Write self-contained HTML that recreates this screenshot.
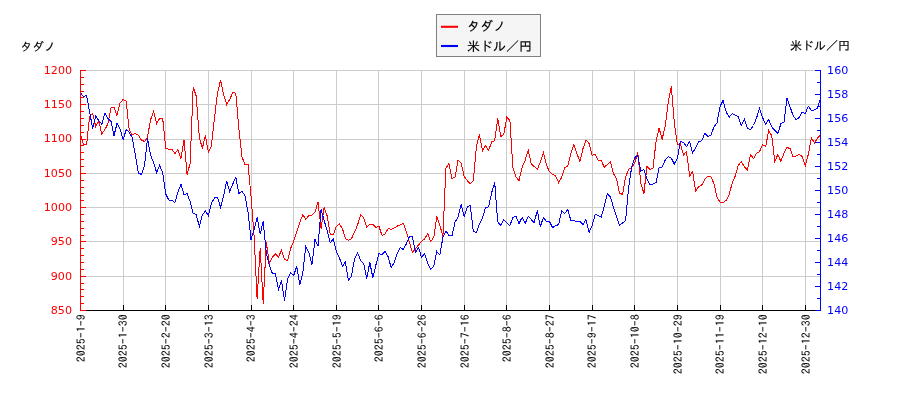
<!DOCTYPE html>
<html lang="ja"><head><meta charset="utf-8"><title>タダノ 米ドル／円</title>
<style>html,body{margin:0;padding:0;background:#fff}svg{display:block}.dj{font-family:"DejaVu Sans","Liberation Sans",sans-serif;font-size:11.1px}.jp{font-family:"Liberation Sans","IPAGothic","Noto Sans CJK JP",sans-serif}.tk{font-family:"IPAGothic","Liberation Mono",monospace}</style></head><body>
<svg width="900" height="400" viewBox="0 0 900 400">
<rect width="900" height="400" fill="#fff"/>
<path d="M80.50 70.5V310.5M123.50 70.5V310.5M165.50 70.5V310.5M208.50 70.5V310.5M251.50 70.5V310.5M293.50 70.5V310.5M336.50 70.5V310.5M378.50 70.5V310.5M421.50 70.5V310.5M464.50 70.5V310.5M506.50 70.5V310.5M549.50 70.5V310.5M592.50 70.5V310.5M634.50 70.5V310.5M677.50 70.5V310.5M720.50 70.5V310.5M762.50 70.5V310.5M805.50 70.5V310.5M80.5 310.50H820.5M80.5 276.50H820.5M80.5 241.50H820.5M80.5 207.50H820.5M80.5 173.50H820.5M80.5 139.50H820.5M80.5 104.50H820.5M80.5 70.50H820.5" stroke="#cccccc" stroke-width="1" fill="none" shape-rendering="crispEdges"/>
<clipPath id="c"><rect x="80.5" y="70.5" width="740.0" height="240.0"/></clipPath>
<g clip-path="url(#c)"><polyline points="80.5,134.0 83.5,145.0 86.6,144.5 89.6,116.5 92.7,113.5 95.7,126.5 98.8,121.0 101.8,134.0 104.9,129.5 107.9,124.0 111.0,108.0 114.0,107.5 117.0,115.5 120.1,103.0 123.1,99.5 126.2,101.0 129.2,130.0 132.3,135.0 135.3,133.5 138.4,135.3 141.4,140.0 144.5,141.5 147.5,137.3 150.5,120.0 153.6,111.5 156.6,123.5 159.7,118.5 162.7,118.5 165.8,148.3 168.8,149.3 171.9,149.5 174.9,153.5 177.9,149.5 181.0,158.5 184.0,140.0 187.1,174.5 190.1,163.5 193.2,87.0 196.2,96.0 199.3,137.0 202.3,148.5 205.4,135.5 208.4,152.5 211.4,146.0 214.5,118.0 217.5,93.0 220.6,80.0 223.6,94.5 226.7,104.5 229.7,99.5 232.8,92.2 235.8,93.5 238.9,129.0 241.9,156.5 244.9,164.5 248.0,164.0 251.0,196.0 254.1,236.0 257.1,298.5 260.2,248.0 263.2,303.5 266.3,242.0 269.3,263.5 272.4,257.0 275.4,254.0 278.4,257.0 281.5,250.5 284.5,259.0 287.6,260.8 290.6,248.5 293.7,241.0 296.7,231.5 299.8,222.5 302.8,214.5 305.8,219.5 308.9,215.5 311.9,215.2 315.0,212.0 318.0,202.2 321.1,228.5 324.1,207.2 327.2,216.0 330.2,234.5 333.3,234.5 336.3,226.5 339.3,224.0 342.4,228.5 345.4,238.5 348.5,240.5 351.5,238.5 354.6,232.0 357.6,225.0 360.7,214.5 363.7,218.0 366.8,227.5 369.8,224.2 372.8,224.5 375.9,227.5 378.9,226.2 382.0,235.4 385.0,234.0 388.1,228.5 391.1,229.5 394.2,228.0 397.2,226.2 400.3,224.7 403.3,223.5 406.3,231.5 409.4,242.0 412.4,252.5 415.5,249.0 418.5,245.0 421.6,241.2 424.6,239.0 427.7,233.5 430.7,241.5 433.8,237.2 436.8,216.5 439.8,225.0 442.9,236.5 445.9,168.0 449.0,163.5 452.0,178.5 455.1,177.0 458.1,160.0 461.2,163.5 464.2,176.5 467.2,180.5 470.3,183.8 473.3,180.5 476.4,147.0 479.4,134.5 482.5,151.0 485.5,145.5 488.6,150.5 491.6,142.0 494.7,140.5 497.7,118.5 500.7,136.5 503.8,134.5 506.8,117.2 509.9,120.5 512.9,168.0 516.0,177.0 519.0,180.7 522.1,167.5 525.1,160.5 528.2,150.0 531.2,163.5 534.2,166.5 537.3,169.5 540.3,162.0 543.4,152.5 546.4,165.0 549.5,171.7 552.5,174.3 555.6,176.0 558.6,182.5 561.7,177.5 564.7,167.3 567.7,166.7 570.8,153.5 573.8,144.5 576.9,153.5 579.9,161.5 583.0,148.5 586.0,140.0 589.1,143.5 592.1,155.5 595.2,154.2 598.2,160.2 601.2,160.5 604.3,167.3 607.3,164.5 610.4,161.5 613.4,173.5 616.5,178.5 619.5,193.0 622.6,194.5 625.6,177.0 628.6,169.5 631.7,167.5 634.7,163.0 637.8,152.5 640.8,183.0 643.9,193.5 646.9,166.5 650.0,169.5 653.0,168.2 656.1,141.0 659.1,128.0 662.1,139.5 665.2,126.0 668.2,102.0 671.3,86.2 674.3,122.5 677.4,145.0 680.4,144.0 683.5,155.0 686.5,151.5 689.6,176.0 692.6,171.5 695.6,191.0 698.7,186.5 701.7,185.0 704.8,179.5 707.8,176.2 710.9,176.8 713.9,183.5 717.0,197.0 720.0,202.2 723.1,202.5 726.1,200.5 729.1,195.0 732.2,183.0 735.2,176.0 738.3,165.3 741.3,161.5 744.4,167.0 747.4,170.0 750.5,154.5 753.5,158.5 756.5,153.5 759.6,151.5 762.6,144.5 765.7,146.7 768.7,130.3 771.8,136.0 774.8,161.5 777.9,154.5 780.9,161.5 784.0,153.0 787.0,147.5 790.0,148.5 793.1,157.0 796.1,156.0 799.2,154.2 802.2,156.5 805.3,165.5 808.3,154.5 811.4,137.5 814.4,143.0 817.5,138.0 820.5,135.0" fill="none" stroke="#ff0000" stroke-width="1" shape-rendering="crispEdges"/><polyline points="80.5,93.0 83.5,96.5 86.6,95.5 89.6,112.0 92.7,128.5 95.7,116.0 98.8,120.5 101.8,124.3 104.9,113.0 107.9,118.5 111.0,121.5 114.0,135.5 117.0,123.5 120.1,129.0 123.1,139.5 126.2,129.7 129.2,132.3 132.3,137.7 135.3,155.0 138.4,173.0 141.4,174.5 144.5,166.0 147.5,138.5 150.5,155.0 153.6,162.5 156.6,172.5 159.7,165.3 162.7,173.0 165.8,194.0 168.8,200.0 171.9,200.5 174.9,202.5 177.9,192.0 181.0,184.3 184.0,194.5 187.1,193.8 190.1,201.5 193.2,213.5 196.2,214.5 199.3,226.5 202.3,215.0 205.4,211.0 208.4,215.5 211.4,203.0 214.5,198.0 217.5,197.2 220.6,207.5 223.6,196.0 226.7,181.0 229.7,191.5 232.8,184.0 235.8,177.2 238.9,193.5 241.9,191.5 244.9,195.0 248.0,212.0 251.0,239.5 254.1,230.0 257.1,217.5 260.2,234.0 263.2,221.5 266.3,253.0 269.3,265.5 272.4,273.5 275.4,273.5 278.4,289.5 281.5,280.5 284.5,300.5 287.6,279.0 290.6,272.5 293.7,275.5 296.7,266.5 299.8,285.0 302.8,273.0 305.8,246.5 308.9,252.5 311.9,265.0 315.0,239.5 318.0,246.0 321.1,209.5 324.1,220.5 327.2,230.5 330.2,243.0 333.3,238.7 336.3,251.5 339.3,257.5 342.4,266.3 345.4,262.0 348.5,280.5 351.5,276.0 354.6,258.5 357.6,252.8 360.7,260.5 363.7,263.5 366.8,278.5 369.8,262.3 372.8,277.5 375.9,265.0 378.9,253.7 382.0,254.7 385.0,251.2 388.1,256.5 391.1,267.5 394.2,262.5 397.2,253.5 400.3,247.5 403.3,249.5 406.3,244.0 409.4,236.5 412.4,236.5 415.5,252.3 418.5,247.5 421.6,257.5 424.6,253.5 427.7,263.0 430.7,269.5 433.8,266.5 436.8,251.5 439.8,255.0 442.9,237.5 445.9,231.0 449.0,235.5 452.0,235.5 455.1,222.0 458.1,217.0 461.2,204.2 464.2,216.5 467.2,207.0 470.3,205.3 473.3,231.5 476.4,232.5 479.4,224.0 482.5,217.7 485.5,207.6 488.6,206.8 491.6,193.0 494.7,182.3 497.7,221.8 500.7,225.5 503.8,219.5 506.8,223.0 509.9,225.5 512.9,217.5 516.0,216.5 519.0,223.5 522.1,217.5 525.1,223.5 528.2,216.5 531.2,219.5 534.2,222.5 537.3,210.5 540.3,226.5 543.4,217.5 546.4,221.2 549.5,221.5 552.5,227.5 555.6,225.8 558.6,224.5 561.7,210.5 564.7,213.5 567.7,209.5 570.8,220.2 573.8,220.5 576.9,221.5 579.9,221.5 583.0,224.5 586.0,219.5 589.1,232.5 592.1,225.5 595.2,214.3 598.2,215.5 601.2,217.0 604.3,206.0 607.3,193.5 610.4,197.0 613.4,207.0 616.5,216.5 619.5,225.0 622.6,223.0 625.6,220.5 628.6,187.5 631.7,167.0 634.7,157.5 637.8,155.5 640.8,171.0 643.9,169.5 646.9,178.5 650.0,185.0 653.0,184.0 656.1,182.5 659.1,168.0 662.1,167.0 665.2,160.0 668.2,156.5 671.3,158.0 674.3,164.0 677.4,158.0 680.4,141.2 683.5,142.5 686.5,146.5 689.6,141.5 692.6,153.0 695.6,148.0 698.7,141.5 701.7,140.8 704.8,133.5 707.8,136.3 710.9,135.5 713.9,127.0 717.0,122.8 720.0,106.7 723.1,100.3 726.1,111.7 729.1,117.3 732.2,113.5 735.2,115.0 738.3,116.5 741.3,125.5 744.4,119.5 747.4,128.0 750.5,129.8 753.5,125.5 756.5,118.0 759.6,108.5 762.6,117.5 765.7,124.5 768.7,119.5 771.8,127.0 774.8,130.5 777.9,133.5 780.9,123.5 784.0,122.3 787.0,98.2 790.0,106.7 793.1,115.5 796.1,119.5 799.2,117.5 802.2,112.0 805.3,113.7 808.3,106.2 811.4,110.5 814.4,110.0 817.5,108.0 820.5,98.0" fill="none" stroke="#0000ff" stroke-width="1" shape-rendering="crispEdges"/></g>
<path d="M80.50 310.5v-5.5M123.50 310.5v-5.5M165.50 310.5v-5.5M208.50 310.5v-5.5M251.50 310.5v-5.5M293.50 310.5v-5.5M336.50 310.5v-5.5M378.50 310.5v-5.5M421.50 310.5v-5.5M464.50 310.5v-5.5M506.50 310.5v-5.5M549.50 310.5v-5.5M592.50 310.5v-5.5M634.50 310.5v-5.5M677.50 310.5v-5.5M720.50 310.5v-5.5M762.50 310.5v-5.5M805.50 310.5v-5.5M80.0 310.5H821.0" stroke="#000" stroke-width="1" fill="none" shape-rendering="crispEdges"/>
<path d="M80.5 310.50h5.5M80.5 303.50h3.5M80.5 296.50h3.5M80.5 289.50h3.5M80.5 283.50h3.5M80.5 276.50h5.5M80.5 269.50h3.5M80.5 262.50h3.5M80.5 255.50h3.5M80.5 248.50h3.5M80.5 241.50h5.5M80.5 235.50h3.5M80.5 228.50h3.5M80.5 221.50h3.5M80.5 214.50h3.5M80.5 207.50h5.5M80.5 200.50h3.5M80.5 193.50h3.5M80.5 187.50h3.5M80.5 180.50h3.5M80.5 173.50h5.5M80.5 166.50h3.5M80.5 159.50h3.5M80.5 152.50h3.5M80.5 145.50h3.5M80.5 139.50h5.5M80.5 132.50h3.5M80.5 125.50h3.5M80.5 118.50h3.5M80.5 111.50h3.5M80.5 104.50h5.5M80.5 97.50h3.5M80.5 91.50h3.5M80.5 84.50h3.5M80.5 77.50h3.5M80.5 70.50h5.5M80.5 70.0V311.0" stroke="#ff0000" stroke-width="1" fill="none" shape-rendering="crispEdges"/>
<path d="M820.5 310.50h-5.5M820.5 298.50h-3.5M820.5 286.50h-5.5M820.5 274.50h-3.5M820.5 262.50h-5.5M820.5 250.50h-3.5M820.5 238.50h-5.5M820.5 226.50h-3.5M820.5 214.50h-5.5M820.5 202.50h-3.5M820.5 190.50h-5.5M820.5 178.50h-3.5M820.5 166.50h-5.5M820.5 154.50h-3.5M820.5 142.50h-5.5M820.5 130.50h-3.5M820.5 118.50h-5.5M820.5 106.50h-3.5M820.5 94.50h-5.5M820.5 82.50h-3.5M820.5 70.50h-5.5M820.5 70.0V311.0" stroke="#0000ff" stroke-width="1" fill="none" shape-rendering="crispEdges"/>
<text class="dj" x="72.0" y="313.80" text-anchor="end" fill="#ff0000">850</text>
<text class="dj" x="72.0" y="279.51" text-anchor="end" fill="#ff0000">900</text>
<text class="dj" x="72.0" y="245.23" text-anchor="end" fill="#ff0000">950</text>
<text class="dj" x="72.0" y="210.94" text-anchor="end" fill="#ff0000">1000</text>
<text class="dj" x="72.0" y="176.66" text-anchor="end" fill="#ff0000">1050</text>
<text class="dj" x="72.0" y="142.37" text-anchor="end" fill="#ff0000">1100</text>
<text class="dj" x="72.0" y="108.09" text-anchor="end" fill="#ff0000">1150</text>
<text class="dj" x="72.0" y="73.80" text-anchor="end" fill="#ff0000">1200</text>
<text class="dj" x="827.1" y="313.80" fill="#0000ff">140</text>
<text class="dj" x="827.1" y="289.80" fill="#0000ff">142</text>
<text class="dj" x="827.1" y="265.80" fill="#0000ff">144</text>
<text class="dj" x="827.1" y="241.80" fill="#0000ff">146</text>
<text class="dj" x="827.1" y="217.80" fill="#0000ff">148</text>
<text class="dj" x="827.1" y="193.80" fill="#0000ff">150</text>
<text class="dj" x="827.1" y="169.80" fill="#0000ff">152</text>
<text class="dj" x="827.1" y="145.80" fill="#0000ff">154</text>
<text class="dj" x="827.1" y="121.80" fill="#0000ff">156</text>
<text class="dj" x="827.1" y="97.80" fill="#0000ff">158</text>
<text class="dj" x="827.1" y="73.80" fill="#0000ff">160</text>
<text class="tk" font-size="11.1" letter-spacing="0.45" stroke="#000" stroke-width="0.1" transform="translate(84.80 314) rotate(-90)" text-anchor="end" fill="#000">2025-1-9</text>
<text class="tk" font-size="11.1" letter-spacing="0.45" stroke="#000" stroke-width="0.1" transform="translate(127.43 314) rotate(-90)" text-anchor="end" fill="#000">2025-1-30</text>
<text class="tk" font-size="11.1" letter-spacing="0.45" stroke="#000" stroke-width="0.1" transform="translate(170.07 314) rotate(-90)" text-anchor="end" fill="#000">2025-2-20</text>
<text class="tk" font-size="11.1" letter-spacing="0.45" stroke="#000" stroke-width="0.1" transform="translate(212.70 314) rotate(-90)" text-anchor="end" fill="#000">2025-3-13</text>
<text class="tk" font-size="11.1" letter-spacing="0.45" stroke="#000" stroke-width="0.1" transform="translate(255.33 314) rotate(-90)" text-anchor="end" fill="#000">2025-4-3</text>
<text class="tk" font-size="11.1" letter-spacing="0.45" stroke="#000" stroke-width="0.1" transform="translate(297.97 314) rotate(-90)" text-anchor="end" fill="#000">2025-4-24</text>
<text class="tk" font-size="11.1" letter-spacing="0.45" stroke="#000" stroke-width="0.1" transform="translate(340.60 314) rotate(-90)" text-anchor="end" fill="#000">2025-5-19</text>
<text class="tk" font-size="11.1" letter-spacing="0.45" stroke="#000" stroke-width="0.1" transform="translate(383.24 314) rotate(-90)" text-anchor="end" fill="#000">2025-6-6</text>
<text class="tk" font-size="11.1" letter-spacing="0.45" stroke="#000" stroke-width="0.1" transform="translate(425.87 314) rotate(-90)" text-anchor="end" fill="#000">2025-6-26</text>
<text class="tk" font-size="11.1" letter-spacing="0.45" stroke="#000" stroke-width="0.1" transform="translate(468.50 314) rotate(-90)" text-anchor="end" fill="#000">2025-7-16</text>
<text class="tk" font-size="11.1" letter-spacing="0.45" stroke="#000" stroke-width="0.1" transform="translate(511.14 314) rotate(-90)" text-anchor="end" fill="#000">2025-8-6</text>
<text class="tk" font-size="11.1" letter-spacing="0.45" stroke="#000" stroke-width="0.1" transform="translate(553.77 314) rotate(-90)" text-anchor="end" fill="#000">2025-8-27</text>
<text class="tk" font-size="11.1" letter-spacing="0.45" stroke="#000" stroke-width="0.1" transform="translate(596.40 314) rotate(-90)" text-anchor="end" fill="#000">2025-9-17</text>
<text class="tk" font-size="11.1" letter-spacing="0.45" stroke="#000" stroke-width="0.1" transform="translate(639.04 314) rotate(-90)" text-anchor="end" fill="#000">2025-10-8</text>
<text class="tk" font-size="11.1" letter-spacing="0.45" stroke="#000" stroke-width="0.1" transform="translate(681.67 314) rotate(-90)" text-anchor="end" fill="#000">2025-10-29</text>
<text class="tk" font-size="11.1" letter-spacing="0.45" stroke="#000" stroke-width="0.1" transform="translate(724.31 314) rotate(-90)" text-anchor="end" fill="#000">2025-11-19</text>
<text class="tk" font-size="11.1" letter-spacing="0.45" stroke="#000" stroke-width="0.1" transform="translate(766.94 314) rotate(-90)" text-anchor="end" fill="#000">2025-12-10</text>
<text class="tk" font-size="11.1" letter-spacing="0.45" stroke="#000" stroke-width="0.1" transform="translate(809.57 314) rotate(-90)" text-anchor="end" fill="#000">2025-12-30</text>
<text class="jp" font-size="11.7" x="20.6" y="50.8" fill="#000" stroke="#000" stroke-width="0.15">タダノ</text>
<text class="jp" font-size="12" x="850" y="50" text-anchor="end" fill="#000" stroke="#000" stroke-width="0.15">米ドル／円</text>
<rect x="436.5" y="14.5" width="104" height="42" fill="#f5f5f5" stroke="#808080" stroke-width="1"/>
<path d="M441 26.8h17" stroke="#ff0000" stroke-width="2.1"/><path d="M441 46h17" stroke="#0000ff" stroke-width="2.1"/>
<text class="jp" font-size="13" x="467" y="31.3" fill="#000" stroke="#000" stroke-width="0.15">タダノ</text>
<text class="jp" font-size="13" x="467" y="50.5" fill="#000" stroke="#000" stroke-width="0.15">米ドル／円</text>
</svg></body></html>
